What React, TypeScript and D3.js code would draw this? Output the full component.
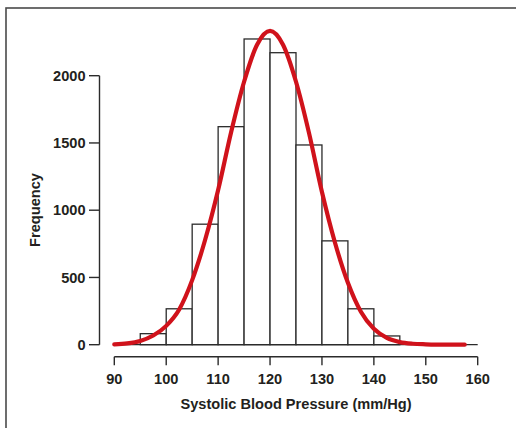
import React from "react";
import * as d3 from "d3";

const binStarts = [95, 100, 105, 110, 115, 120, 125, 130, 135, 140];
const binWidth = 5;
const frequencies = [82, 267, 896, 1621, 2273, 2171, 1485, 772, 267, 65];

const curveX = [90, 92.5, 95, 97.5, 100, 102.5, 105, 107.5, 110, 112.5, 115, 117.5, 120, 122.5, 125, 127.5, 130, 132.5, 135, 137.5, 140, 142.5, 145, 147.5, 150, 152.5, 155, 157.5];
const curveY = [3, 10, 28, 68, 140, 262, 480, 780, 1150, 1580, 1955, 2230, 2333, 2230, 1955, 1575, 1135, 760, 460, 245, 118, 50, 19, 7, 3, 1, 0, 0];

const xTicks = [90, 100, 110, 120, 130, 140, 150, 160];
const yTicks = [0, 500, 1000, 1500, 2000];

const xTitle = "Systolic Blood Pressure (mm/Hg)";
const yTitle = "Frequency";

export default function App() {
  const W = 516, H = 428;
  const x = d3.scaleLinear().domain([90, 160]).range([114.3, 477.7]);
  const y = d3.scaleLinear().domain([0, 2000]).range([344.7, 75.7]);
  const axisY = 99.5;
  const xAxisY = 356.7;
  const ink = "#2b2b2b";
  const font = "'Liberation Sans', Arial, Helvetica, sans-serif";
  const fs = 14.6;

  const line = d3
    .line<number>()
    .x((_, i) => x(curveX[i]))
    .y((d) => y(d))
    .curve(d3.curveMonotoneX);

  return (
    <svg
      width={W}
      height={H}
      style={{ position: "absolute", left: 0, top: 0, background: "#fff" }}
      fontFamily={font}
    >
      {/* frame */}
      <rect x={6} y={8} width={W + 20} height={H + 20} fill="none" stroke="#4a4a4a" strokeWidth={1.6} />

      {/* bars */}
      {frequencies.map((f, i) => (
        <rect
          key={i}
          x={x(binStarts[i])}
          y={y(f)}
          width={x(binStarts[i] + binWidth) - x(binStarts[i])}
          height={y(0) - y(f)}
          fill="#fff"
          stroke={ink}
          strokeWidth={1.3}
        />
      ))}

      {/* zero baseline */}
      <line x1={x(90)} x2={x(160)} y1={y(0)} y2={y(0)} stroke={ink} strokeWidth={1.3} />

      {/* y axis */}
      <line x1={axisY} x2={axisY} y1={y(0)} y2={y(2000)} stroke={ink} strokeWidth={1.4} />
      {yTicks.map((t) => (
        <g key={t}>
          <line x1={axisY - 10.5} x2={axisY} y1={y(t)} y2={y(t)} stroke={ink} strokeWidth={1.4} />
          <text
            x={85.5}
            y={y(t)}
            dy="0.35em"
            textAnchor="end"
            fontSize={fs}
            fontWeight="bold"
            fill="#231f20"
          >
            {t}
          </text>
        </g>
      ))}
      <text
        transform={`translate(40,${210}) rotate(-90)`}
        textAnchor="middle"
        fontSize={fs}
        fontWeight="bold"
        fill="#231f20"
      >
        {yTitle}
      </text>

      {/* x axis */}
      <line x1={x(90)} x2={x(160)} y1={xAxisY} y2={xAxisY} stroke={ink} strokeWidth={1.4} />
      {xTicks.map((t) => (
        <g key={t}>
          <line x1={x(t)} x2={x(t)} y1={xAxisY} y2={xAxisY + 8.5} stroke={ink} strokeWidth={1.4} />
          <text
            x={x(t)}
            y={383.5}
            textAnchor="middle"
            fontSize={fs}
            fontWeight="bold"
            fill="#231f20"
          >
            {t}
          </text>
        </g>
      ))}
      <text
        x={(x(90) + x(160)) / 2}
        y={409}
        textAnchor="middle"
        fontSize={fs}
        fontWeight="bold"
        fill="#231f20"
      >
        {xTitle}
      </text>

      {/* fitted curve */}
      <path
        d={line(curveY) || ""}
        fill="none"
        stroke="#d0121b"
        strokeWidth={4.2}
        strokeLinecap="round"
        strokeLinejoin="round"
      />
    </svg>
  );
}
